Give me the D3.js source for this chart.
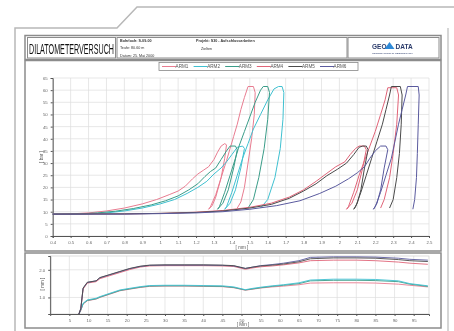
<!DOCTYPE html>
<html>
<head>
<meta charset="utf-8">
<script src="https://cdn.jsdelivr.net/npm/d3@7"></script>
<style>
  html, body { margin: 0; padding: 0; background: #fff; }
  svg { display: block; font-family: "Liberation Sans", Arial, sans-serif; filter: blur(0.3px); }
</style>
</head>
<body>
<div id="chart"></div>
<script>
// ---- data ----
const armNames = ['ARM1', 'ARM2', 'ARM3', 'ARM4', 'ARM5', 'ARM6'];

// pressure curves: [mm, bar]
const arm1 = [[0.40,9.0],[0.50,9.1],[0.60,9.5],[0.70,10.3],[0.80,11.5],[0.90,13.2],[0.98,15.0],[1.05,17.0],[1.10,18.5],[1.14,20.5],[1.18,23.5],[1.21,25.5],[1.24,27.0],[1.27,28.5],[1.30,31.5],[1.32,34.5],[1.34,37.0],[1.36,38.0],[1.37,37.5],
  [1.36,32],[1.34,24],[1.31,16],[1.29,12.5],[1.27,11.0],
  [1.28,12],[1.31,17],[1.34,24],[1.37,31],[1.39,36],[1.41,41],[1.43,46],[1.45,52],[1.47,57],[1.49,61.5],[1.52,61.5],[1.53,59],
  [1.525,50],[1.51,40],[1.49,30],[1.47,20],[1.45,14],[1.43,11.5]];
const arm2 = [[0.40,9.0],[0.60,9.1],[0.70,9.5],[0.80,10.3],[0.90,11.5],[1.00,13.2],[1.08,15.0],[1.15,17.5],[1.21,20.0],[1.26,22.5],[1.30,25.5],[1.34,28.0],[1.37,30.5],[1.40,33.5],[1.43,36.5],[1.46,37.0],[1.47,36.0],
  [1.45,28],[1.42,19],[1.39,13.5],[1.36,11.0],
  [1.37,12],[1.40,18],[1.43,25],[1.46,32],[1.49,38],[1.52,44],[1.56,50],[1.60,56],[1.635,60.5],[1.66,61.5],[1.68,61.5],[1.69,59],
  [1.685,48],[1.67,36],[1.64,24],[1.60,15],[1.56,11.5]];
const arm3 = [[0.40,9.0],[0.55,9.1],[0.65,9.5],[0.75,10.2],[0.85,11.3],[0.95,12.8],[1.03,14.5],[1.10,16.5],[1.16,19.0],[1.21,21.5],[1.25,24.5],[1.28,26.5],[1.31,28.0],[1.34,31.5],[1.37,35.0],[1.39,37.0],[1.42,37.0],[1.43,35.5],
  [1.41,28],[1.38,19],[1.35,13.5],[1.32,11.0],
  [1.33,12],[1.36,18],[1.39,25],[1.42,32],[1.44,37],[1.47,43],[1.50,49],[1.53,55],[1.56,60],[1.575,61.5],[1.60,61.5],[1.61,59],
  [1.60,48],[1.58,36],[1.55,24],[1.52,15],[1.49,11.5]];
const arm4 = [[0.40,9.0],[0.80,9.1],[1.00,9.3],[1.20,9.8],[1.35,10.5],[1.50,11.8],[1.62,13.5],[1.72,16.0],[1.80,19.0],[1.87,22.5],[1.93,25.8],[1.98,28.5],[2.03,30.5],[2.06,33.5],[2.09,36.0],[2.11,37.0],[2.14,37.0],[2.15,35.5],
  [2.13,28],[2.10,19],[2.07,13.5],[2.04,11.0],
  [2.05,12],[2.08,18],[2.11,25],[2.14,31],[2.17,37],[2.20,43],[2.23,50],[2.255,56],[2.27,61.0],[2.32,61.0],[2.33,58],
  [2.32,46],[2.30,34],[2.28,24],[2.25,15],[2.23,11.5]];
const arm5 = [[0.40,9.0],[0.80,9.1],[1.00,9.3],[1.20,9.7],[1.35,10.3],[1.50,11.5],[1.62,13.0],[1.72,15.5],[1.80,18.5],[1.87,21.5],[1.93,24.8],[1.99,27.5],[2.04,30.0],[2.08,33.5],[2.11,36.5],[2.13,37.0],[2.15,37.0],[2.16,35.5],
  [2.14,28],[2.12,19],[2.10,13.5],[2.08,11.0],
  [2.09,12],[2.12,18],[2.15,25],[2.18,32],[2.21,39],[2.24,46],[2.26,52],[2.28,58],[2.29,61.5],[2.34,61.5],[2.35,58],
  [2.345,46],[2.335,34],[2.32,24],[2.30,15],[2.28,11.5]];
const arm6 = [[0.40,9.0],[0.80,9.0],[1.00,9.2],[1.20,9.5],[1.35,10.0],[1.50,11.0],[1.65,12.5],[1.78,14.5],[1.89,17.5],[1.98,20.5],[2.05,23.5],[2.10,26.0],[2.14,28.5],[2.17,32.0],[2.20,35.0],[2.23,37.0],[2.26,37.0],[2.27,35.5],
  [2.25,28],[2.23,19],[2.21,13.5],[2.19,11.0],
  [2.20,12],[2.23,18],[2.26,25],[2.29,32],[2.31,39],[2.33,46],[2.35,52],[2.37,58],[2.38,61.5],[2.44,61.5],[2.445,58],
  [2.44,46],[2.435,34],[2.43,24],[2.42,15],[2.41,11.0]];

// displacement over time
const timeMin  = [7.5, 8, 8.6, 9.7, 12, 13, 15.6, 18.2, 20.8, 23.5, 26, 30, 35, 40, 45, 48, 51, 53, 55, 58, 61, 65, 68, 74, 80, 85, 91, 94, 98.7];
const dispArm1 = [0.4,0.53,0.76,0.88,0.94,1.00,1.12,1.24,1.30,1.36,1.40,1.41,1.41,1.40,1.39,1.35,1.26,1.30,1.34,1.38,1.41,1.46,1.52,1.53,1.53,1.52,1.48,1.44,1.38];
const dispArm2 = [0.4,0.55,0.79,0.91,0.97,1.03,1.15,1.27,1.33,1.39,1.43,1.44,1.44,1.43,1.42,1.38,1.28,1.33,1.37,1.42,1.46,1.53,1.63,1.66,1.66,1.65,1.60,1.50,1.42];
const dispArm3 = [0.4,0.54,0.77,0.89,0.95,1.01,1.13,1.25,1.31,1.37,1.41,1.42,1.42,1.41,1.40,1.36,1.27,1.31,1.35,1.40,1.44,1.50,1.60,1.62,1.62,1.61,1.57,1.48,1.40];
const dispArm4 = [0.4,0.58,1.30,1.52,1.57,1.68,1.79,1.90,2.01,2.10,2.14,2.15,2.15,2.15,2.14,2.12,2.02,2.07,2.11,2.14,2.18,2.25,2.33,2.35,2.35,2.33,2.28,2.24,2.20];
const dispArm5 = [0.4,0.60,1.34,1.55,1.60,1.72,1.83,1.94,2.05,2.13,2.17,2.18,2.18,2.18,2.17,2.15,2.05,2.10,2.14,2.17,2.21,2.29,2.40,2.43,2.43,2.42,2.37,2.33,2.30];
const dispArm6 = [0.4,0.60,1.33,1.54,1.60,1.71,1.82,1.93,2.04,2.12,2.16,2.17,2.17,2.17,2.16,2.14,2.05,2.10,2.15,2.19,2.24,2.33,2.45,2.47,2.47,2.46,2.42,2.38,2.35];

const mmTicks = d3.range(4, 26).map(d => d / 10);
const barTicks = d3.range(0, 70, 5);
const minTicks = d3.range(5, 100, 5);
const dispTicks = [1, 2];

const colors = ['#e87c90', '#3fc0d0', '#3a9c88', '#e06478', '#4a4a4a', '#5a5a9e'];
const curves = [arm1, arm2, arm3, arm4, arm5, arm6];
const displacements = [dispArm1, dispArm2, dispArm3, dispArm4, dispArm5, dispArm6];

// ---- drawing ----
const W = 454, H = 331;
const svg = d3.select('#chart').append('svg').attr('width', W).attr('height', H);

// page outline
svg.append('path')
  .attr('d', 'M15,331 V28 H117 L137,7 H454')
  .attr('fill', 'none').attr('stroke', '#b8b8b8').attr('stroke-width', 1.5);
svg.append('line').attr('x1', 448).attr('x2', 448).attr('y1', 28).attr('y2', 331)
  .attr('stroke', '#c8c8c8').attr('stroke-width', 1.5);

// report frames
const frame = (x, y, w, h, sw) => svg.append('rect')
  .attr('x', x).attr('y', y).attr('width', w).attr('height', h)
  .attr('fill', 'none').attr('stroke', '#8c8c8c').attr('stroke-width', sw || 1);
frame(25, 35.5, 416, 24, 1.5);
frame(27.5, 37.5, 88, 20.5);
frame(117, 37.5, 230, 20.5);
frame(348, 37.5, 91, 20.5);
frame(25, 60.5, 416, 190.5, 1.5);
frame(25, 253, 416, 75, 1.5);

// header
svg.append('text').attr('x', 29).attr('y', 53.5)
  .attr('textLength', 85).attr('lengthAdjust', 'spacingAndGlyphs')
  .style('font-size', '14px').style('fill', '#111').text('DILATOMETERVERSUCH');

// well info block, small type
const info = svg.append('g').style('font-size', '3.7px').style('fill', '#333');
info.append('text').attr('x', 120).attr('y', 41.6).style('font-weight', 'bold').text('Bohrloch: S-09-00');
info.append('text').attr('x', 120).attr('y', 49.1).text('Teufe: 80.60 m');
info.append('text').attr('x', 120).attr('y', 56.6).text('Datum: 25. Mai 2000');
info.append('text').attr('x', 196).attr('y', 41.6).style('font-weight', 'bold').text('Projekt:  S30 - Aufschlussarbeiten');
info.append('text').attr('x', 201).attr('y', 50.2).text('Zielten');

// logo
svg.append('text').attr('x', 372).attr('y', 48.5).style('font-size', '6.5px').style('font-weight', 'bold')
  .style('fill', '#2a3a6a').text('GEO');
svg.append('path').attr('d', 'M389.5,42 L394.5,49 L384.5,49 Z').attr('fill', '#2f8ad8');
svg.append('text').attr('x', 395.5).attr('y', 48.5).style('font-size', '6.5px').style('font-weight', 'bold')
  .style('fill', '#2a3a6a').text('DATA');
svg.append('text').attr('x', 372).attr('y', 54).attr('textLength', 41).attr('lengthAdjust', 'spacingAndGlyphs')
  .style('font-size', '2.4px').style('fill', '#2a3a6a').text('GEOTECHNISCHE MESSTECHNIK');

// legend
const legend = svg.append('g');
legend.append('rect').attr('x', 159).attr('y', 62.5).attr('width', 199).attr('height', 8)
  .attr('fill', '#fff').attr('stroke', '#888').attr('stroke-width', 0.8);
armNames.forEach((name, i) => {
  const cx = 182 + i * 31.6;
  legend.append('line').attr('x1', cx - 20).attr('x2', cx - 6).attr('y1', 66.5).attr('y2', 66.5)
    .attr('stroke', colors[i]).attr('stroke-width', 1);
  legend.append('text').attr('x', cx).attr('y', 68.3).attr('text-anchor', 'middle')
    .style('font-size', '4.6px').style('fill', '#555').text(name);
});

// main chart
const x = d3.scaleLinear().domain([0.4, 2.5]).range([52.7, 429]);
const y = d3.scaleLinear().domain([0, 65]).range([236, 78]);
const main = svg.append('g');

main.append('g').selectAll('line').data(mmTicks).join('line')
  .attr('x1', d => x(d)).attr('x2', d => x(d)).attr('y1', y(65)).attr('y2', y(0))
  .attr('stroke', '#dcdcdc').attr('stroke-width', 0.7);
main.append('g').selectAll('line').data(barTicks).join('line')
  .attr('x1', x(0.4)).attr('x2', x(2.5)).attr('y1', d => y(d)).attr('y2', d => y(d))
  .attr('stroke', '#dcdcdc').attr('stroke-width', 0.7);

const xAxis = main.append('g').attr('transform', `translate(0,${y(0)})`)
  .call(d3.axisBottom(x).tickValues(mmTicks).tickSize(2).tickFormat(d => d3.format('~g')(d)));
const yAxis = main.append('g').attr('transform', `translate(${x(0.4)},0)`)
  .call(d3.axisLeft(y).tickValues(barTicks).tickSize(2));
[xAxis, yAxis].forEach(a => {
  a.select('.domain').attr('stroke', '#555');
  a.selectAll('.tick line').attr('stroke', '#555');
  a.selectAll('text').style('font-size', '4.3px').style('fill', '#666').attr('font-family', null);
});

const line = d3.line().x(d => x(d[0])).y(d => y(d[1]));
curves.forEach((c, i) => {
  main.append('path').datum(c).attr('d', line)
    .attr('fill', 'none').attr('stroke', colors[i]).attr('stroke-width', 1).attr('stroke-linejoin', 'round');
});

main.append('text').attr('x', 242).attr('y', 248.5).attr('text-anchor', 'middle')
  .style('font-size', '4.6px').style('fill', '#555').text('[ mm ]');
main.append('text').attr('transform', 'translate(43,157) rotate(-90)').attr('text-anchor', 'middle')
  .style('font-size', '4.6px').style('fill', '#555').text('[ bar ]');

// displacement chart
const tx = d3.scaleLinear().domain([0, 99]).range([50.2, 429]);
const ty = d3.scaleLinear().domain([0.4, 2.5]).range([314, 256]);
const bottom = svg.append('g');

bottom.append('g').selectAll('line').data(minTicks).join('line')
  .attr('x1', d => tx(d)).attr('x2', d => tx(d)).attr('y1', ty(2.5)).attr('y2', ty(0.4))
  .attr('stroke', '#dcdcdc').attr('stroke-width', 0.7);
bottom.append('g').selectAll('line').data(dispTicks).join('line')
  .attr('x1', tx(0)).attr('x2', tx(99)).attr('y1', d => ty(d)).attr('y2', d => ty(d))
  .attr('stroke', '#dcdcdc').attr('stroke-width', 0.7);
bottom.append('rect').attr('x', tx(0)).attr('y', ty(2.5)).attr('width', tx(99) - tx(0)).attr('height', ty(0.4) - ty(2.5))
  .attr('fill', 'none').attr('stroke', '#cfcfcf').attr('stroke-width', 0.7);

const txAxis = bottom.append('g').attr('transform', `translate(0,${ty(0.4)})`)
  .call(d3.axisBottom(tx).tickValues(minTicks).tickSize(2));
const tyAxis = bottom.append('g').attr('transform', `translate(${tx(0)},0)`)
  .call(d3.axisLeft(ty).tickValues(dispTicks).tickSize(2));
[txAxis, tyAxis].forEach(a => {
  a.select('.domain').attr('stroke', '#555');
  a.selectAll('.tick line').attr('stroke', '#555');
  a.selectAll('text').style('font-size', '4.3px').style('fill', '#666').attr('font-family', null);
});

const tline = d3.line().x((d, i) => tx(timeMin[i])).y(d => ty(d));
[0, 2, 1, 3, 5, 4].forEach(i => {
  bottom.append('path').datum(displacements[i]).attr('d', tline)
    .attr('fill', 'none').attr('stroke', colors[i]).attr('stroke-width', 0.9);
});

bottom.append('text').attr('x', 243).attr('y', 325.5).attr('text-anchor', 'middle')
  .style('font-size', '4.6px').style('fill', '#555').text('[ Min ]');
bottom.append('text').attr('transform', 'translate(44,284) rotate(-90)').attr('text-anchor', 'middle')
  .style('font-size', '4.6px').style('fill', '#555').text('[ mm ]');
</script>
</body>
</html>
